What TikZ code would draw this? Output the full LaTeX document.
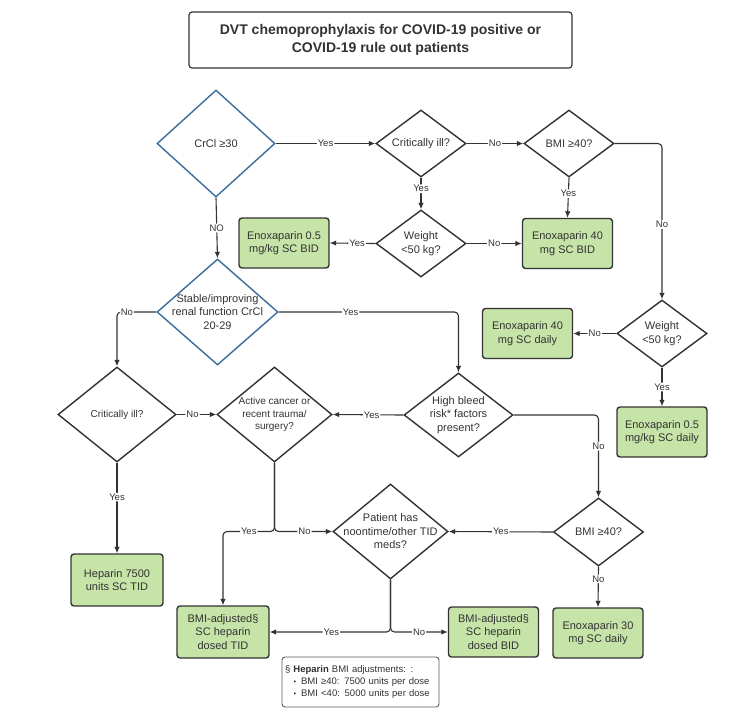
\documentclass[tikz,border=0pt]{standalone}
\usepackage{fontspec}
\setmainfont{Liberation Sans}
\newfontfamily\bulletfont{DejaVu Sans}
\usetikzlibrary{shapes.geometric,arrows.meta}
\definecolor{boxgreen}{HTML}{C6E3A8}
\definecolor{choiceblue}{HTML}{3D6D9B}
\definecolor{inkgray}{HTML}{333333}
\tikzset{
  choice/.style={diamond, draw=inkgray, line width=1.4pt, inner sep=0pt},
  bluechoice/.style={choice, draw=choiceblue},
  dose/.style={rectangle, rounded corners=3pt, draw=inkgray, fill=boxgreen, line width=1.4pt,
    minimum width=90pt, minimum height=50pt, inner sep=0pt, align=center, text=inkgray,
    font=\fontsize{11}{13.5}\selectfont},
  qtext/.style={align=center, text=inkgray, font=\fontsize{11}{13.5}\selectfont},
  qsmall/.style={align=center, text=inkgray, font=\fontsize{10}{12.3}\selectfont},
  flow/.style={draw=inkgray, line width=1.1pt, rounded corners=4pt, -{Latex[length=6.5pt,width=5.5pt]}},
  tag/.style={fill=white, inner sep=1pt, text=inkgray, font=\fontsize{9.5}{10}\selectfont},
}

\begin{document}
\begin{tikzpicture}[x=1pt, y=-1pt]
		%%%%% START %%%%%
		\useasboundingbox (0, 0) rectangle (729, 721);
		\fill[white] (0, 0) rectangle (729, 721);
		
		\node[draw=inkgray, line width=1.2pt, rounded corners=3pt, minimum width=383pt, minimum height=56pt, align=center, text=inkgray, font=\bfseries\fontsize{14}{17.5}\selectfont] (title) at (380.5, 40) {DVT chemoprophylaxis for COVID-19 positive or\\COVID-19 rule out patients};
		
		% decisions
		\node[bluechoice, minimum width=118pt, minimum height=107pt, label={[qtext]center:CrCl ≥30}] (crcl) at (216, 143.5) {};
		\node[choice, minimum width=90pt, minimum height=67pt, label={[qtext]center:Critically ill?}] (critA) at (421, 143.5) {};
		\node[choice, minimum width=90pt, minimum height=67pt, label={[qtext]center:BMI ≥40?}] (bmiA) at (569, 143.5) {};
		\node[choice, minimum width=90pt, minimum height=67pt, label={[qtext]center:Weight\\<50 kg?}] (wtA) at (421, 243.5) {};
		\node[choice, minimum width=90pt, minimum height=67pt, label={[qtext]center:Weight\\<50 kg?}] (wtB) at (662, 333.5) {};
		\node[bluechoice, minimum width=121pt, minimum height=106pt, label={[qtext]center:Stable/improving\\renal function CrCl\\20-29}] (stable) at (217.5, 312) {};
		\node[choice, minimum width=109pt, minimum height=84pt, label={[qtext]center:High bleed\\risk* factors\\present?}] (bleed) at (458.5, 415) {};
		\node[choice, minimum width=118pt, minimum height=95pt, label={[qsmall]center:Critically ill?}] (critB) at (117, 414.5) {};
		\node[choice, minimum width=115pt, minimum height=95pt, label={[qsmall]center:Active cancer or\\recent trauma/\\surgery?}] (cancer) at (274.5, 414.5) {};
		\node[choice, minimum width=90pt, minimum height=68pt, label={[qtext]center:BMI ≥40?}] (bmiB) at (598.5, 532) {};
		\node[choice, minimum width=115pt, minimum height=95pt, label={[qtext]center:Patient has\\noontime/other TID\\meds?}] (meds) at (390.5, 531.5) {};
		
		% doses
		\node[dose] (enoxBid05) at (284, 243) {Enoxaparin 0.5\\mg/kg SC BID};
		\node[dose] (enoxBid40) at (567.5, 243.5) {Enoxaparin 40\\mg SC BID};
		\node[dose] (enoxDay40) at (527.5, 333.5) {Enoxaparin 40\\mg SC daily};
		\node[dose] (enoxDay05) at (662, 432) {Enoxaparin 0.5\\mg/kg SC daily};
		\node[dose] (enoxDay30) at (598, 633) {Enoxaparin 30\\mg SC daily};
		\node[dose, minimum width=92pt, minimum height=52pt] (hep) at (117, 580) {Heparin 7500\\units SC TID};
		\node[dose, minimum width=92pt, minimum height=52pt] (hepTid) at (223, 632) {BMI-adjusted§\\SC heparin\\dosed TID};
		\node[dose] (hepBid) at (493.5, 632) {BMI-adjusted§\\SC heparin\\dosed BID};
		
		\node[draw=inkgray!80, line width=0.9pt, rounded corners=3pt, text width=151pt, minimum height=50pt, inner sep=3pt, align=left, text=inkgray, font=\fontsize{9.5}{12}\selectfont] (note) at (360.5, 682) {§ \textbf{Heparin} BMI adjustments: :\\\hspace*{8pt}{\bulletfont\fontsize{7}{12}\selectfont ‣}\hspace{4pt}BMI ≥40: 7500 units per dose\\\hspace*{8pt}{\bulletfont\fontsize{7}{12}\selectfont ‣}\hspace{4pt}BMI <40: 5000 units per dose};
		
		% connectors
		\draw[flow] (crcl.east) -- node[tag]{Yes} (critA.west);
		\draw[flow] (critA.east) -- node[tag]{No} (bmiA.west);
		\draw[flow] (critA.south) -- node[tag, pos=0.35]{Yes} (wtA.north);
		\draw[flow] (wtA.west) -- node[tag, pos=0.4]{Yes} (enoxBid05.east);
		\draw[flow] (wtA.east) -- node[tag]{No} (enoxBid40.west);
		\draw[flow] (bmiA.south) -- node[tag, pos=0.4]{Yes} (enoxBid40.north);
		\draw[flow] (bmiA.east) -| node[tag, pos=0.76]{No} (wtB.north);
		\draw[flow] (wtB.west) -- node[tag]{No} (enoxDay40.east);
		\draw[flow] (wtB.south) -- node[tag]{Yes} (enoxDay05.north);
		\draw[flow] (crcl.south) -- node[tag]{NO} (stable.north);
		\draw[flow] (stable.east) -| node[tag, pos=0.2]{Yes} (bleed.north);
		\draw[flow] (stable.west) -| node[tag, pos=0.375]{No} (critB.north);
		\draw[flow] (critB.east) -- node[tag, pos=0.4]{No} (cancer.west);
		\draw[flow] (critB.south) -- node[tag, pos=0.38]{Yes} (hep.north);
		\draw[flow] (bleed.west) -- node[tag, pos=0.45]{Yes} (cancer.east);
		\draw[flow] (bleed.east) -| node[tag, pos=0.69]{No} (bmiB.north);
		\draw[flow] (bmiB.west) -- node[tag]{Yes} (meds.east);
		\draw[flow] (bmiB.south) -- node[tag, pos=0.3]{No} (enoxDay30.north);
		
		\coordinate (cancerSplit) at (cancer.south |- meds.west);
		\draw[flow] (cancer.south) |- node[tag, pos=0.76]{No} (meds.west);
		\draw[flow] (cancer.south) -- (cancerSplit) -| node[tag, pos=0.25]{Yes} (hepTid.north);
		\draw[flow] (meds.south) |- node[tag, pos=0.745]{Yes} (hepTid.east);
		\draw[flow] (meds.south) |- node[tag, pos=0.75]{No} (hepBid.west);
		
		%%%%% END %%%%%
	\end{tikzpicture}
\end{document}
